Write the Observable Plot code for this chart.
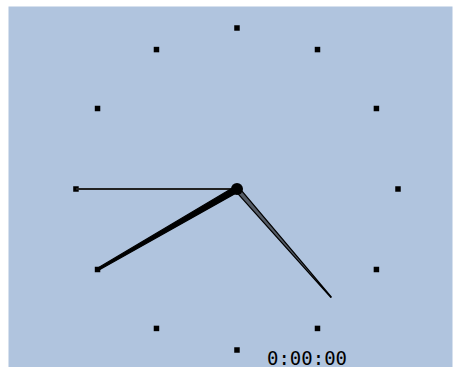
<!DOCTYPE html>
<html>
<head>
<meta charset="utf-8">
<script src="https://cdn.jsdelivr.net/npm/d3@7"></script>
<script src="https://cdn.jsdelivr.net/npm/@observablehq/plot@0.6"></script>
<style>
  html, body { margin: 0; padding: 0; background: #ffffff; }
  #chart svg { display: block; }
</style>
</head>
<body>
<div id="chart"></div>
<script>
// Hour markers on the dial
const hours = [1, 2, 3, 4, 5, 6, 7, 8, 9, 10, 11, 12];
// Hands: angle in degrees clockwise from 12, length as fraction of dial radius
const handNames = ["minute", "hour", "second"];
const handAngles = [270, 240, 139];
const handLengths = [1.0, 1.0, 0.89];
const handBaseHalfWidths = [0, 0.019, 0.015];
const handTipHalfWidths = [0, 0.007, 0.002];
const timeLabel = ["0:00:00"];

const toXY = (deg, len) => {
  const a = deg * Math.PI / 180;
  return [len * Math.sin(a), len * Math.cos(a)];
};

const markerData = hours.map(h => {
  const [x, y] = toXY(h * 30, 1);
  return {h, x, y};
});

// polygon points for tapered hands
function handPolygon(i) {
  const ang = handAngles[i], len = handLengths[i];
  const wb = handBaseHalfWidths[i], wt = handTipHalfWidths[i];
  const [tx, ty] = toXY(ang, len);
  const [bx, by] = toXY(ang + 90, wb);
  const [qx, qy] = toXY(ang + 90, wt);
  return [
    {x: bx, y: by},
    {x: tx + qx, y: ty + qy},
    {x: tx - qx, y: ty - qy},
    {x: -bx, y: -by},
    {x: bx, y: by}
  ];
}
const minuteTip = toXY(handAngles[0], handLengths[0]);
const minuteLink = [{x1: 0, y1: 0, x2: minuteTip[0], y2: minuteTip[1]}];

const chart = Plot.plot({
  width: 453,
  height: 367,
  marginLeft: 8,
  marginRight: 1,
  marginTop: 6,
  marginBottom: 0,
  x: {domain: [-1.419, 1.3385], axis: null},
  y: {domain: [-1.1087, 1.1335], axis: null},
  marks: [
    Plot.frame({fill: "#b0c4de", stroke: null}),
    Plot.dot(markerData, {x: "x", y: "y", symbol: "square", r: 3.1, fill: "black", stroke: null}),
    Plot.link(minuteLink, {x1: "x1", y1: "y1", x2: "x2", y2: "y2", stroke: "#222", strokeWidth: 2.2}),
    Plot.line(handPolygon(1), {x: "x", y: "y", fill: "black", stroke: "black", strokeWidth: 1.2, curve: "linear"}),
    Plot.line(handPolygon(2), {x: "x", y: "y", fill: "#555c66", stroke: "black", strokeWidth: 1.3, curve: "linear"}),
    Plot.dot([{x: 0, y: 0}], {x: "x", y: "y", r: 6, fill: "black", stroke: null}),
    Plot.text(timeLabel, {
      text: d => d,
      frameAnchor: "bottom",
      dx: 76.5,
      dy: -3,
      textAnchor: "middle",
      lineAnchor: "bottom",
      fontFamily: "DejaVu Sans Mono",
      fontSize: 19,
      fill: "black"
    })
  ]
});
document.getElementById("chart").appendChild(chart);
</script>
</body>
</html>
